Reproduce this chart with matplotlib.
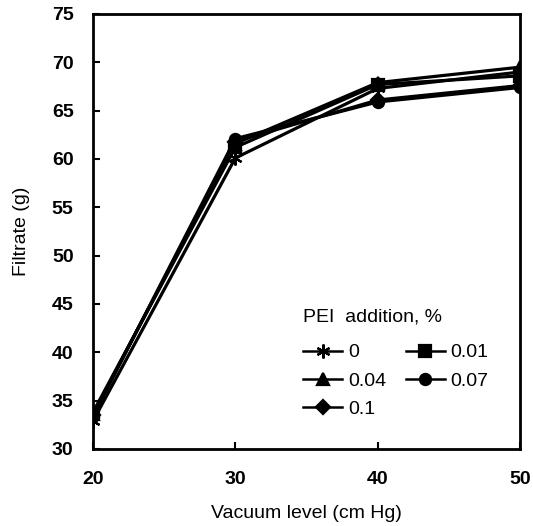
import matplotlib
matplotlib.use("Agg")
import matplotlib.pyplot as plt

plt.rcParams['font.family'] = ['Liberation Sans', 'DejaVu Sans']

vacuum = [20, 30, 40, 50]
labels = ['0', '0.01', '0.04', '0.07', '0.1']
f0 = [32.9, 60.1, 67.3, 69.0]
f001 = [33.8, 61.2, 67.7, 68.6]
f004 = [33.6, 61.6, 67.9, 69.5]
f007 = [33.4, 62.1, 65.9, 67.4]
f01 = [33.5, 61.8, 66.1, 67.6]
series = [f0, f001, f004, f007, f01]
markers = [(6, 2, 0), 's', '^', 'o', 'D']
msizes = [10, 8, 8, 8, 7]

fig = plt.figure(figsize=(5.33, 5.26), dpi=100)
ax = fig.add_axes([0.1745, 0.1464, 0.801, 0.827])

handles = []
for ys, lab, m, ms in zip(series, labels, markers, msizes):
    h, = ax.plot(vacuum, ys, color='black', lw=2.3, marker=m, ms=ms,
                 mew=1.6, label=lab)
    handles.append(h)

ax.set_xlim(20, 50)
ax.set_ylim(30, 75)
ax.set_xticks([20, 30, 40, 50])
ax.set_yticks(range(30, 80, 5))
ax.tick_params(direction='in', length=5, width=1.5, labelsize=14)
ax.tick_params(axis='x', pad=16)
ax.tick_params(axis='y', pad=14)
for t in ax.get_xticklabels() + ax.get_yticklabels():
    t.set_fontweight('bold')
for s in ax.spines.values():
    s.set_linewidth(2)

ax.set_xlabel('Vacuum level (cm Hg)', fontsize=14, labelpad=12)
ax.set_ylabel('Filtrate (g)', fontsize=14, labelpad=16)

# row-wise order like the original: 0, 0.01 / 0.04, 0.07 / 0.1
order = [0, 2, 4, 1, 3]
leg = ax.legend([handles[i] for i in order], [labels[i] for i in order],
                title='PEI  addition, %', ncol=2, loc='upper left',
                bbox_to_anchor=(0.47, 0.345), frameon=False, fontsize=14,
                title_fontsize=14, handlelength=2.0, handletextpad=0.3,
                columnspacing=1.0, labelspacing=0.55, borderpad=0)
leg._legend_box.align = 'left'
leg._legend_box.sep = 13
for lh in leg.legend_handles:
    lh.set_linewidth(1.8)

fig.savefig('out.png', dpi=100)
